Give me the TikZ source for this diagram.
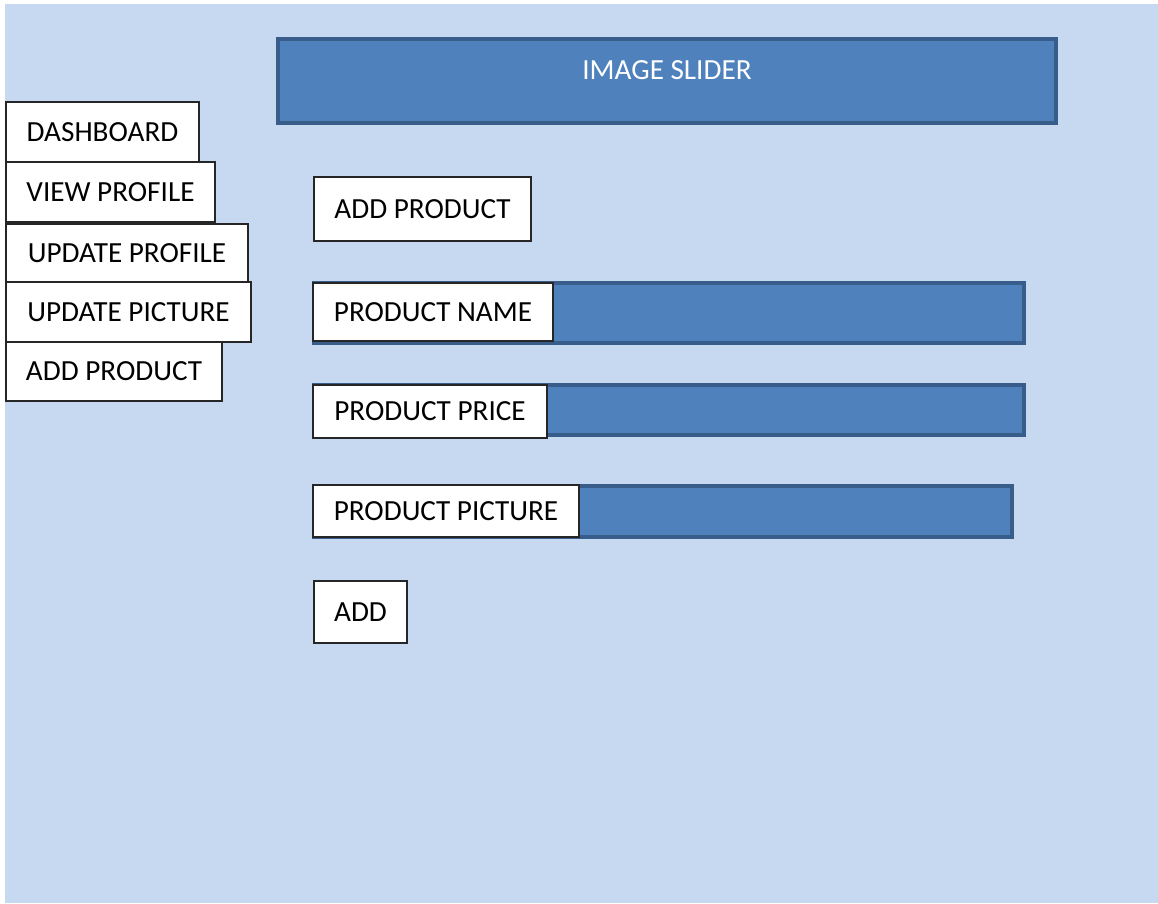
\documentclass[tikz,border=0pt]{standalone}
\usepackage{fontspec}
\setmainfont{Carlito}
\definecolor{bg}{HTML}{C6D9F1}
\definecolor{barfill}{HTML}{4F81BD}
\definecolor{barline}{HTML}{385D8A}
\tikzset{
  box/.style={draw=black!85, fill=white, line width=1.4pt, anchor=north west, inner sep=0pt, outer sep=0pt, font=\fontsize{29.2}{35}\selectfont},
  bar/.style={draw=barline, fill=barfill, line width=4pt, anchor=north west, inner sep=0pt, outer sep=0pt}
}
\begin{document}
\begin{tikzpicture}[x=1pt,y=-1pt]
        \path[use as bounding box] (0,0) rectangle (1158,903);
        \fill[bg] (5,4) rectangle (1158,903);
        \node[bar, minimum width=778pt, minimum height=84pt] at (278,39) (slider) {};
        \node[text=white, font=\fontsize{29.2}{35}\selectfont] at ([yshift=11pt]slider.center) (slidertext) {IMAGE SLIDER};
        \node[box, minimum width=193pt, minimum height=60pt] at (6,102) (dash) {DASHBOARD};
        \node[box, minimum width=209pt, minimum height=60pt] at (6,162) (view) {VIEW PROFILE};
        \node[box, minimum width=242pt, minimum height=59pt] at (6,224) (updprof) {UPDATE PROFILE};
        \node[box, minimum width=245pt, minimum height=60pt] at (6,282) (updpic) {UPDATE PICTURE};
        \node[box, minimum width=216pt, minimum height=59pt] at (6,342) (addmenu) {ADD PRODUCT};
        \node[box, minimum width=217pt, minimum height=64pt] at (314,177) (title) {ADD PRODUCT};
        \node[bar, minimum width=710pt, minimum height=60pt] at (314,283) (namebar) {};
        \node[box, minimum width=240pt, minimum height=58pt] at (313,283) (name) {PRODUCT NAME};
        \node[bar, minimum width=710pt, minimum height=50pt] at (314,385) (pricebar) {};
        \node[box, minimum width=234pt, minimum height=53pt] at (313,385) (price) {PRODUCT PRICE};
        \node[bar, minimum width=698pt, minimum height=51pt] at (314,486) (picbar) {};
        \node[box, minimum width=266pt, minimum height=52pt] at (313,485) (pic) {PRODUCT PICTURE};
        \node[box, minimum width=93pt, minimum height=62pt] at (314,581) (add) {ADD};
      \end{tikzpicture}
\end{document}
